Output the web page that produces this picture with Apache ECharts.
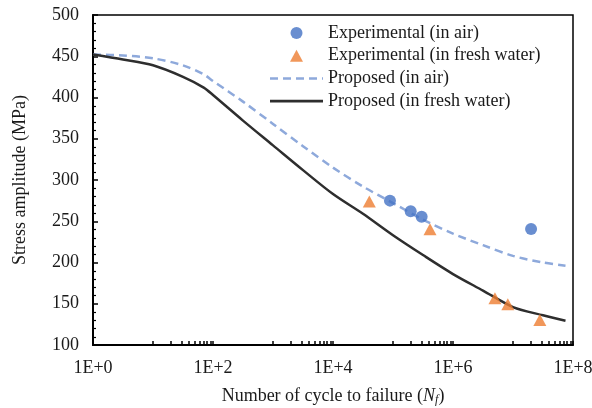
<!DOCTYPE html>
<html>
<head>
<meta charset="utf-8">
<script src="https://cdn.jsdelivr.net/npm/echarts@6/dist/echarts.min.js"></script>
<style>html,body{margin:0;padding:0;background:#fff;}#c{width:592px;height:408px;}</style>
</head>
<body>
<div id="c"></div>
<script>
// Experimental data
const airCycles = [89000, 197000, 300000, 20000000];
const airStress = [275, 262, 255.5, 240.6];
const waterCycles = [40300, 414000, 5000000, 8200000, 28000000];
const waterStress = [274, 240.2, 156.6, 149.3, 130.3];

// Proposed curves
const curveCycles = [1, 3.16, 10, 31.6, 70, 100, 316, 1000, 3160, 10000, 31600, 100000, 316000, 1000000, 3160000, 10000000, 31600000, 75000000];
const proposedAir = [452, 451, 447.5, 439, 428, 420, 395, 368, 341, 315, 292, 272, 252, 235, 221, 208, 200, 196];
const proposedWater = [452, 446, 439, 425, 412, 403, 372, 342, 312, 283, 259, 233, 209, 186, 166, 146, 136, 129.5];

const seriesNames = ['Experimental (in air)', 'Experimental (in fresh water)', 'Proposed (in air)', 'Proposed (in fresh water)'];
const xLabelExps = [0, 2, 4, 6, 8];
const xMinorTicks = [1, 10, 20, 30, 40, 50, 60, 70, 80, 90, 100, 1000, 2000, 3000, 4000, 5000, 6000, 7000, 8000, 9000, 10000,
  100000, 200000, 300000, 400000, 500000, 600000, 700000, 800000, 900000, 1000000,
  10000000, 20000000, 30000000, 40000000, 50000000, 60000000, 70000000, 80000000, 90000000, 100000000];

const zip = (a, b) => a.map((v, i) => [v, b[i]]);
const font = 'Liberation Serif, Times New Roman, serif';
const txt = '#1a1a1a';
const dashIcon = 'path://M0,0h8v2.5h-8z M13,0h8v2.5h-8z M26,0h8v2.5h-8z M39,0h8v2.5h-8z M52,0h1v2.5h-1z';
const solidIcon = 'path://M0,0h53v2.6h-53z';
const triIcon = 'path://M6.5,0L13,12L0,12Z';

const chart = echarts.init(document.getElementById('c'), null, {renderer: 'canvas'});
chart.setOption({
  animation: false,
  grid: {left: 93, right: 19, top: 15, bottom: 63, outerBoundsMode: 'none', containLabel: false,
    show: true, borderColor: '#000', borderWidth: 1.5, backgroundColor: 'transparent'},
  legend: {
    orient: 'vertical', left: 270, top: 24, padding: 0, itemWidth: 53, itemHeight: 12, itemGap: 4.7,
    textStyle: {fontFamily: font, fontSize: 18, color: txt},
    data: [
      {name: seriesNames[0], icon: 'circle'},
      {name: seriesNames[1], icon: triIcon},
      {name: seriesNames[2], icon: dashIcon},
      {name: seriesNames[3], icon: solidIcon}
    ]
  },
  xAxis: {
    type: 'log', logBase: 10, min: 1, max: 100000000,
    name: 'Number of cycle to failure ({i|N}{s|f})', nameLocation: 'middle', nameGap: 41,
    nameTextStyle: {fontFamily: font, fontSize: 18, color: txt,
      rich: {i: {fontFamily: font, fontSize: 18, fontStyle: 'italic', color: txt}, s: {fontFamily: font, fontSize: 12, fontStyle: 'italic', color: txt, verticalAlign: 'bottom', padding: [8, 0, 0, 0]}}},
    axisLine: {lineStyle: {color: '#000', width: 2}},
    axisTick: {inside: true, length: 4, customValues: xMinorTicks, lineStyle: {color: '#000', width: 1.5}},
    axisLabel: {fontFamily: font, fontSize: 18, color: txt, margin: 14,
      formatter: v => { const e = Math.round(Math.log10(v)); return xLabelExps.indexOf(e) >= 0 ? '1E+' + e : ''; }},
    splitLine: {show: false}
  },
  yAxis: {
    type: 'value', min: 100, max: 500, interval: 50,
    name: 'Stress amplitude (MPa)', nameLocation: 'middle', nameGap: 64,
    nameTextStyle: {fontFamily: font, fontSize: 18, color: txt},
    axisLine: {show: true, lineStyle: {color: '#000', width: 2}},
    axisTick: {show: true, inside: true, length: 5, lineStyle: {color: '#000', width: 1.5}},
    minorTick: {show: true, splitNumber: 5, length: 3, lineStyle: {color: '#000', width: 1.2}},
    axisLabel: {fontFamily: font, fontSize: 18, color: txt, margin: 14},
    splitLine: {show: false}
  },
  series: [
    {name: seriesNames[0], type: 'scatter', symbol: 'circle', symbolSize: 12, z: 5,
      itemStyle: {color: '#4472C4'}, data: zip(airCycles, airStress)},
    {name: seriesNames[1], type: 'scatter', symbol: 'triangle', symbolSize: [13, 12], z: 5,
      itemStyle: {color: '#ED7D31'}, data: zip(waterCycles, waterStress)},
    {name: seriesNames[2], type: 'line', symbol: 'none', smooth: 0.3, z: 3,
      itemStyle: {color: '#8EA9DB'},
      lineStyle: {color: '#8EA9DB', width: 2.5, type: [8, 5]}, data: zip(curveCycles, proposedAir)},
    {name: seriesNames[3], type: 'line', symbol: 'none', smooth: 0.3, z: 3,
      itemStyle: {color: '#2e2e2e'},
      lineStyle: {color: '#2e2e2e', width: 2.5}, data: zip(curveCycles, proposedWater)}
  ]
});
</script>
</body>
</html>
